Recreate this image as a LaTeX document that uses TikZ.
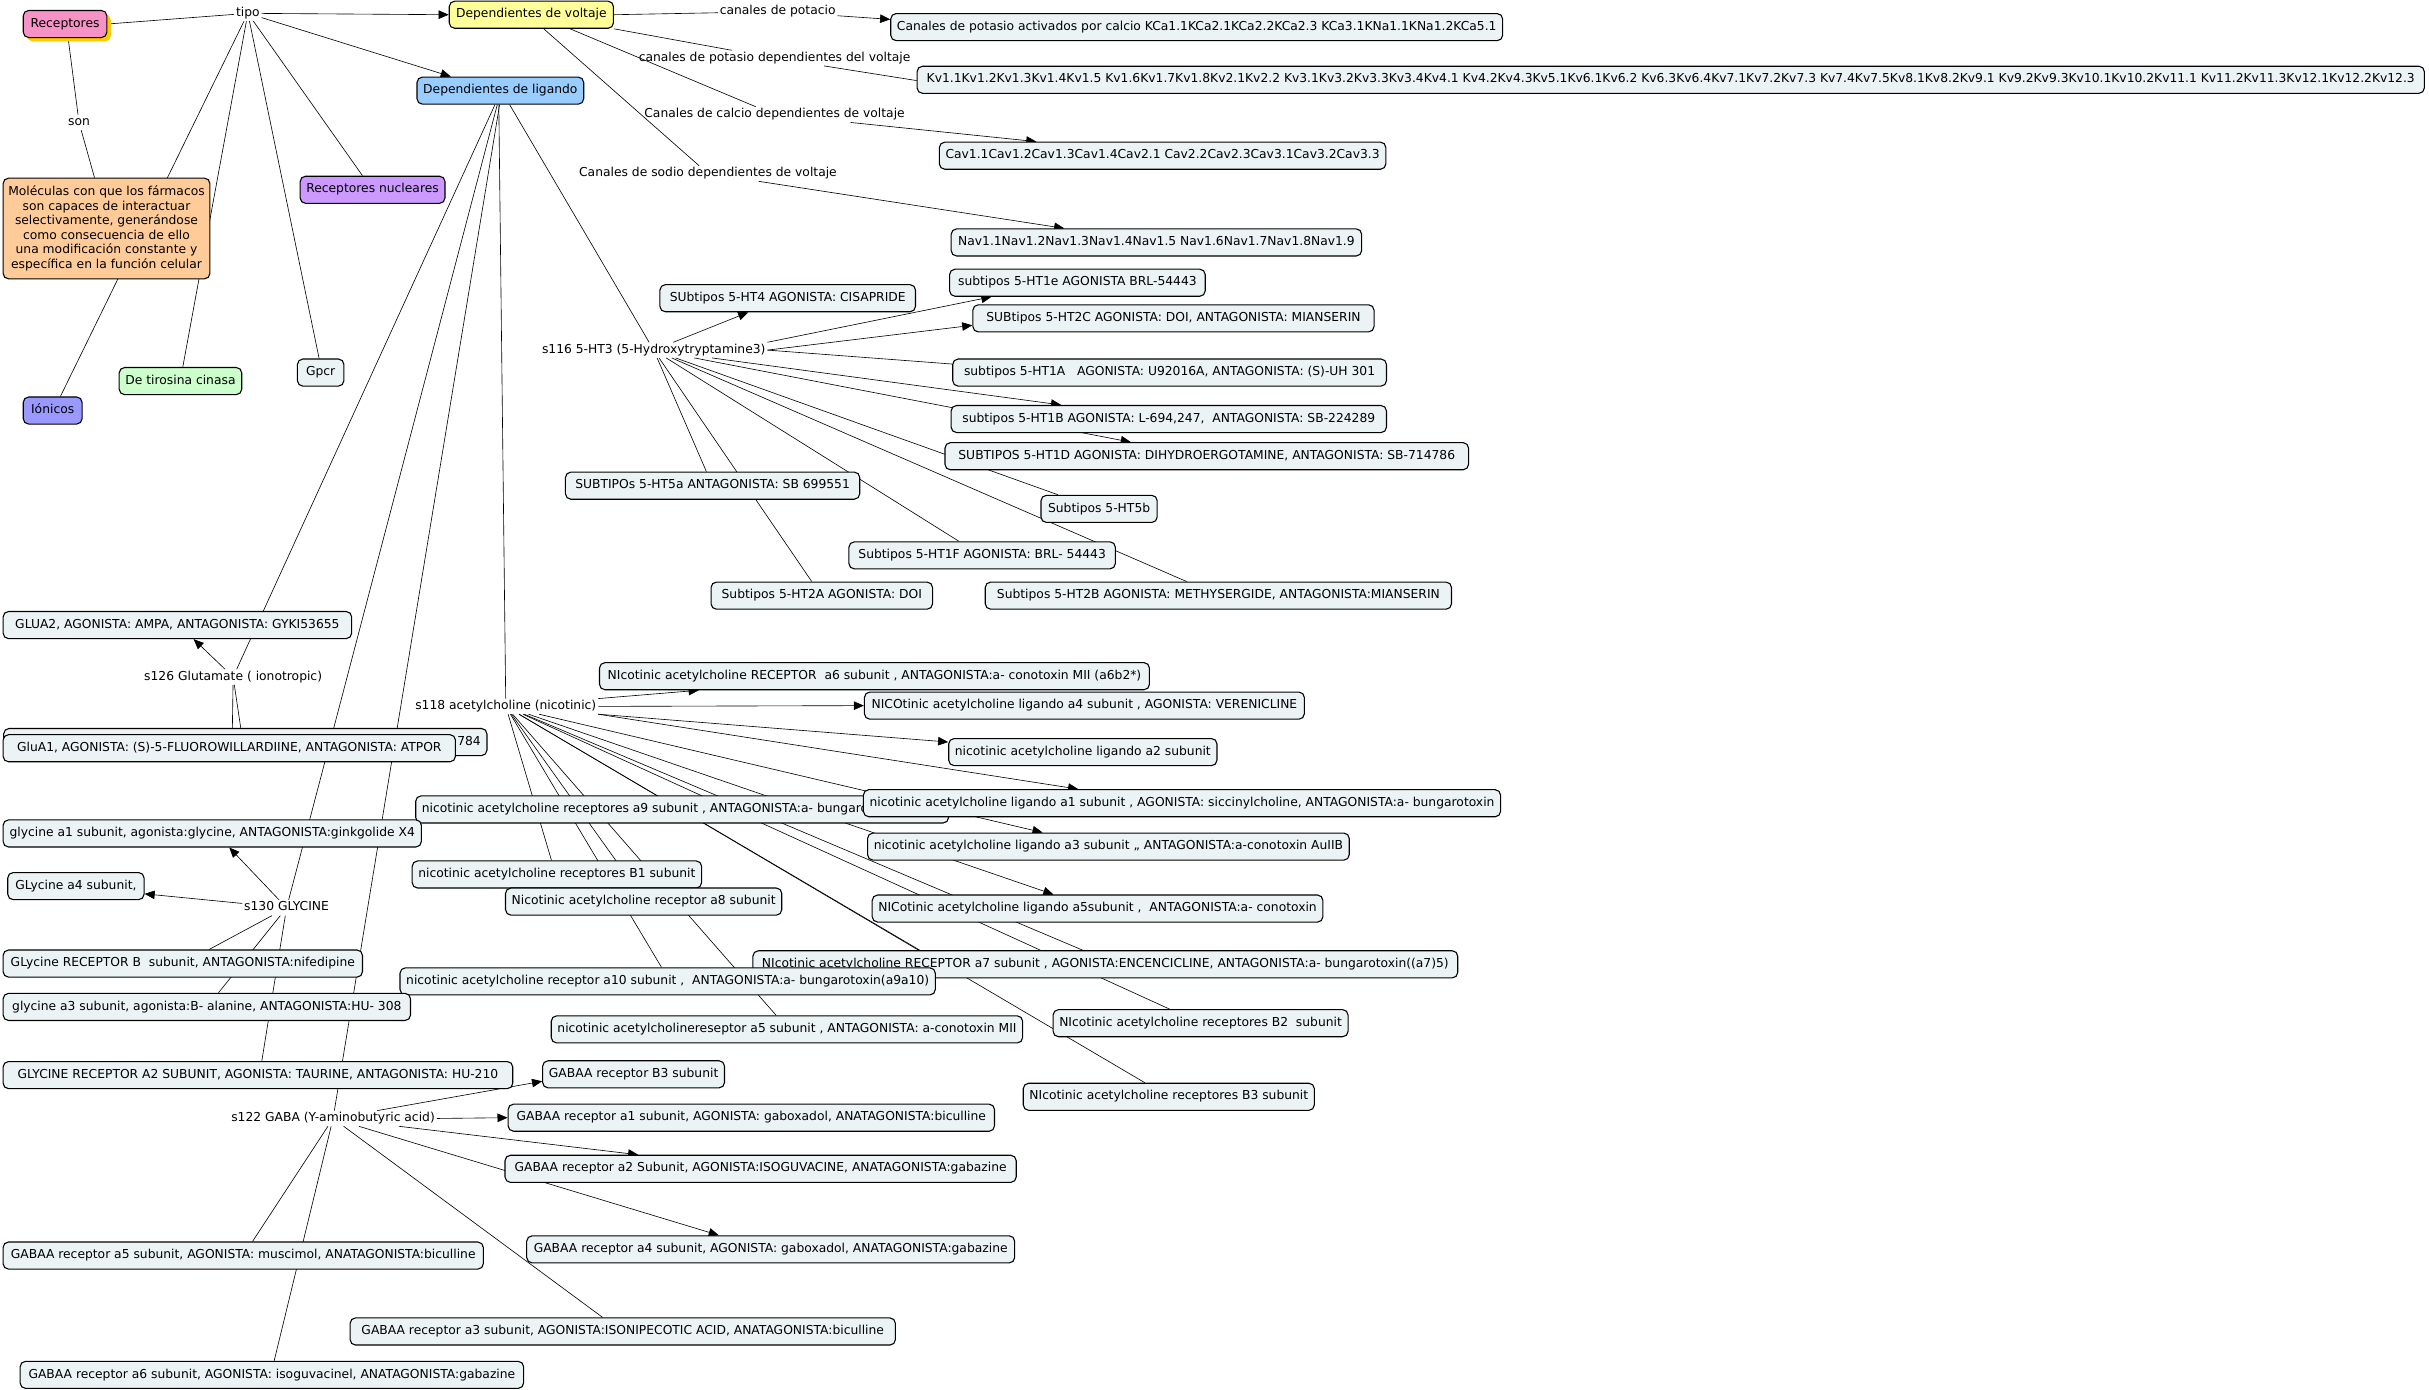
\documentclass[tikz,border=0pt]{standalone}
\usepackage{fontspec}
\setmainfont{DejaVu Sans}
\usetikzlibrary{arrows.meta,shadows}
\pgfdeclarelayer{bg}
\pgfsetlayers{bg,main}
\definecolor{cgrey}{RGB}{236,243,245}
\definecolor{cpink}{RGB}{247,146,198}
\definecolor{cshadow}{RGB}{255,204,0}
\definecolor{cyel}{RGB}{255,255,153}
\definecolor{cblue}{RGB}{153,204,255}
\definecolor{corange}{RGB}{255,204,153}
\definecolor{cpurple}{RGB}{204,153,255}
\definecolor{cviolet}{RGB}{153,153,255}
\definecolor{cgreen}{RGB}{204,255,204}
\begin{document}
\begin{tikzpicture}[x=1pt,y=-1pt,
  font=\fontsize{7.95}{9.4}\selectfont, line width=0.6pt,
  cbox/.style={draw, line width=0.7pt, rounded corners=3.5pt, fill=cgrey,
    inner xsep=4pt, inner ysep=2pt, minimum height=17.5pt,
    text height=5.8pt, text depth=1.7pt},
  molbox/.style={draw, line width=0.7pt, rounded corners=3.5pt, fill=corange,
    inner sep=3pt, align=center, minimum width=133.5pt, minimum height=65pt},
  lbl/.style={inner sep=1pt, text height=5.8pt, text depth=1.7pt},
  arr/.style={-{Triangle[length=6.5pt,width=5.5pt]}}]
\useasboundingbox (0,0) rectangle (1568,897);

% ---------- top concepts ----------
\node[cbox, fill=cpink, minimum width=54,
  drop shadow={shadow xshift=2.5pt, shadow yshift=-2.5pt, fill=cshadow, opacity=1}]
  (R) at (42,15.5) {Receptores};
\node[cbox, fill=cyel, minimum width=106] (DV) at (343,9.5) {Dependientes de voltaje};
\node[cbox, fill=cblue, minimum width=106] (DL) at (323,58.5) {Dependientes de ligando};
\node[molbox] (Mol) at (68.75,147.5) {Moléculas con que los fármacos\\ son capaces de interactuar\\ selectivamente, generándose\\ como consecuencia de ello\\ una modificación constante y\\ específica en la función celular};
\node[cbox, fill=cpurple, minimum width=93] (RN) at (240.5,122.5) {Receptores nucleares};
\node[cbox, fill=cviolet, minimum width=38] (Ion) at (34,265) {Iónicos};
\node[cbox, fill=cgreen, minimum width=79] (Tir) at (116.5,246) {De tirosina cinasa};
\node[cbox, minimum width=30] (Gpcr) at (207,240.5) {Gpcr};

% ---------- linking phrases ----------
\node[lbl] (tipo) at (160,8.6) {tipo};
\node[lbl] (son) at (51,79) {son};
\node[lbl] (L1) at (502,7.5) {canales de potacio};
\node[lbl] (L2) at (500,37.5) {canales de potasio dependientes del voltaje};
\node[lbl] (L3) at (500,74) {Canales de calcio dependientes de voltaje};
\node[lbl] (L4) at (457,112) {Canales de sodio dependientes de voltaje};
\node[lbl] (s116) at (422,226) {s116 5-HT3 (5-Hydroxytryptamine3)};
\node[lbl] (s118) at (326.5,456) {s118 acetylcholine (nicotinic)};
\node[lbl] (s126) at (150.5,437) {s126 Glutamate ( ionotropic)};
\node[lbl] (s130) at (185,586) {s130 GLYCINE};
\node[lbl] (s122) at (215,722) {s122 GABA (Y-aminobutyric acid)};

% ---------- voltage channels ----------
\node[cbox, minimum width=391] (kca) at (772.5,17.5) {Canales de potasio activados por calcio KCa1.1KCa2.1KCa2.2KCa2.3 KCa3.1KNa1.1KNa1.2KCa5.1};
\node[cbox, minimum width=973] (kv) at (1078.5,51.5) {Kv1.1Kv1.2Kv1.3Kv1.4Kv1.5 Kv1.6Kv1.7Kv1.8Kv2.1Kv2.2 Kv3.1Kv3.2Kv3.3Kv3.4Kv4.1 Kv4.2Kv4.3Kv5.1Kv6.1Kv6.2 Kv6.3Kv6.4Kv7.1Kv7.2Kv7.3 Kv7.4Kv7.5Kv8.1Kv8.2Kv9.1 Kv9.2Kv9.3Kv10.1Kv10.2Kv11.1 Kv11.2Kv11.3Kv12.1Kv12.2Kv12.3};
\node[cbox, minimum width=283] (cav) at (750.5,100.5) {Cav1.1Cav1.2Cav1.3Cav1.4Cav2.1 Cav2.2Cav2.3Cav3.1Cav3.2Cav3.3};
\node[cbox, minimum width=265] (nav) at (746.5,156.5) {Nav1.1Nav1.2Nav1.3Nav1.4Nav1.5 Nav1.6Nav1.7Nav1.8Nav1.9};

% ---------- 5-HT ----------
\node[cbox, minimum width=165] (ht4) at (508.5,192.5) {SUbtipos 5-HT4 AGONISTA: CISAPRIDE};
\node[cbox, minimum width=165] (ht1e) at (695.5,182.5) {subtipos 5-HT1e AGONISTA BRL-54443};
\node[cbox, minimum width=259] (ht2c) at (757.5,205.5) {SUBtipos 5-HT2C AGONISTA: DOI, ANTAGONISTA: MIANSERIN};
\node[cbox, minimum width=280] (ht1a) at (755,240.5) {subtipos 5-HT1A\ \ \ AGONISTA: U92016A, ANTAGONISTA: (S)-UH 301};
\node[cbox, minimum width=281] (ht1b) at (754.5,270.5) {subtipos 5-HT1B AGONISTA: L-694,247,\ \ ANTAGONISTA: SB-224289};
\node[cbox, minimum width=338] (ht1d) at (779,294.5) {SUBTIPOS 5-HT1D AGONISTA: DIHYDROERGOTAMINE, ANTAGONISTA: SB-714786};
\node[cbox, minimum width=190] (ht5a) at (460,313.5) {SUBTIPOs 5-HT5a ANTAGONISTA: SB 699551};
\node[cbox, minimum width=75] (ht5b) at (709.5,328.5) {Subtipos 5-HT5b};
\node[cbox, minimum width=172] (ht1f) at (634,358.5) {Subtipos 5-HT1F AGONISTA: BRL- 54443};
\node[cbox, minimum width=143] (ht2a) at (530.5,384.5) {Subtipos 5-HT2A AGONISTA: DOI};
\node[cbox, minimum width=301] (ht2b) at (786.5,384.5) {Subtipos 5-HT2B AGONISTA: METHYSERGIDE, ANTAGONISTA:MIANSERIN};

% ---------- nicotinic ----------
\node[cbox, minimum width=355] (na6) at (564.5,436.5) {NIcotinic acetylcholine RECEPTOR\ \ a6 subunit , ANTAGONISTA:a- conotoxin MII (a6b2*)};
\node[cbox, minimum width=284] (na4) at (700,455.5) {NICOtinic acetylcholine ligando a4 subunit , AGONISTA: VERENICLINE};
\node[cbox, minimum width=168] (na2) at (699,485.5) {nicotinic acetylcholine ligando a2 subunit};
\node[cbox, anchor=west, minimum width=344] (na9) at (268,522.5) {\makebox[336pt][l]{nicotinic acetylcholine receptores a9 subunit , ANTAGONISTA:a- bungarotoxin}};
\node[cbox, minimum width=410] (na1) at (763,518.5) {nicotinic acetylcholine ligando a1 subunit , AGONISTA: siccinylcholine, ANTAGONISTA:a- bungarotoxin};
\node[cbox, minimum width=309] (na3) at (715.5,546.5) {nicotinic acetylcholine ligando a3 subunit ,, ANTAGONISTA:a-conotoxin AuIIB};
\node[cbox, minimum width=183] (nb1) at (359.5,564.5) {nicotinic acetylcholine receptores B1 subunit};
\node[cbox, minimum width=173] (na8) at (415.5,582) {Nicotinic acetylcholine receptor a8 subunit};
\node[cbox, minimum width=287] (na5l) at (708.5,586.5) {NICotinic acetylcholine ligando a5subunit ,\ \ ANTAGONISTA:a- conotoxin};
\node[cbox, minimum width=455] (na7) at (713.5,622.5) {NIcotinic acetylcholine RECEPTOR a7 subunit , AGONISTA:ENCENCICLINE, ANTAGONISTA:a- bungarotoxin((a7)5)};
\node[cbox, minimum width=344] (na10) at (431,633.5) {nicotinic acetylcholine receptor a10 subunit ,\ \ ANTAGONISTA:a- bungarotoxin(a9a10)};
\node[cbox, minimum width=304] (na5r) at (508,664.5) {nicotinic acetylcholinereseptor a5 subunit , ANTAGONISTA: a-conotoxin MII};
\node[cbox, minimum width=188] (nb2) at (775,660.5) {NIcotinic acetylcholine receptores B2\ \ subunit};
\node[cbox, minimum width=185] (nb3) at (754.5,708) {NIcotinic acetylcholine receptores B3 subunit};

% ---------- glutamate ----------
\node[cbox, minimum width=225] (glua2) at (114.5,403.5) {GLUA2, AGONISTA: AMPA, ANTAGONISTA: GYKI53655};
\node[cbox, anchor=west, minimum width=312] (gback) at (2,479) {\makebox[304pt][r]{784}};
\node[cbox, minimum width=292] (glua1) at (148,483) {GluA1, AGONISTA: (S)-5-FLUOROWILLARDIINE, ANTAGONISTA: ATPOR};

% ---------- glycine ----------
\node[cbox, minimum width=270] (gy1) at (137,538) {glycine a1 subunit, agonista:glycine, ANTAGONISTA:ginkgolide X4};
\node[cbox, minimum width=88] (gy4) at (49,572) {GLycine a4 subunit,};
\node[cbox, minimum width=232] (gyb) at (118,622) {GLycine RECEPTOR B\ \ subunit, ANTAGONISTA:nifedipine};
\node[cbox, minimum width=263] (gy3) at (133.5,650) {glycine a3 subunit, agonista:B- alanine, ANTAGONISTA:HU- 308};
\node[cbox, minimum width=329] (gya2) at (166.5,694) {GLYCINE RECEPTOR A2 SUBUNIT, AGONISTA: TAURINE, ANTAGONISTA: HU-210};

% ---------- GABA ----------
\node[cbox, minimum width=116] (gbb3) at (409,693.5) {GABAA receptor B3 subunit};
\node[cbox, minimum width=314] (gba1) at (485,721.5) {GABAA receptor a1 subunit, AGONISTA: gaboxadol, ANATAGONISTA:biculline};
\node[cbox, minimum width=330] (gba2) at (491,754.5) {GABAA receptor a2 Subunit, AGONISTA:ISOGUVACINE, ANATAGONISTA:gabazine};
\node[cbox, minimum width=315] (gba4) at (497.5,806.5) {GABAA receptor a4 subunit, AGONISTA: gaboxadol, ANATAGONISTA:gabazine};
\node[cbox, minimum width=310] (gba5) at (157,810.5) {GABAA receptor a5 subunit, AGONISTA: muscimol, ANATAGONISTA:biculline};
\node[cbox, minimum width=352] (gba3) at (402,859.5) {GABAA receptor a3 subunit, AGONISTA:ISONIPECOTIC ACID, ANATAGONISTA:biculline};
\node[cbox, minimum width=325] (gba6) at (175.5,887.5) {GABAA receptor a6 subunit, AGONISTA: isoguvacinel, ANATAGONISTA:gabazine};

% ---------- connectors ----------
\begin{pgfonlayer}{bg}
\fill[white] (0,0) rectangle (1568,897);
\draw (R.east) -- (tipo);
\draw[arr] (tipo) -- (DV.west);
\draw[arr] (tipo) -- (DL.north -| 291,0);
\draw (tipo) -- (RN.north -| 234,0);
\draw (tipo) -- (Gpcr.north -| 206,0);
\draw (tipo) -- (Tir.north -| 118,0);
\draw (tipo) -- (Ion.north -| 39,0);
\draw (R.south -| 44,0) -- (son);
\draw (son) -- (Mol.north -| 61,0);
% voltage
\draw (DV.east) -- (L1);
\draw[arr] (L1) -- (kca.west |- 0,12.5);
\draw (DV.south east) -- (L2);
\draw (L2) -- (kv.west |- 0,52);
\draw (DV.south -| 368,0) -- (L3);
\draw[arr] (L3) -- (cav.north -| 669,0);
\draw (DV.south -| 351,0) -- (L4);
\draw[arr] (L4) -- (nav.north -| 687,0);
% ligand
\draw (DL.south -| 329,0) -- (s116);
\draw (DL.south -| 322,0) -- (s118);
\draw (DL.south -| 319.5,0) -- (s126);
\draw (DL.south -| 321,0) -- (s130);
\draw (DL.south -| 322.5,0) -- (s122);
% 5-HT
\draw[arr] (s116) -- (ht4.south -| 483,0);
\draw[arr] (s116.north east) -- (ht1e.south -| 640,0);
\draw[arr] (s116.east) -- (ht2c.west |- 0,210);
\draw (s116.east) -- (ht1a.west |- 0,235);
\draw[arr] (s116) -- (ht1b.north -| 685,0);
\draw[arr] (s116) -- (ht1d.north -| 730,0);
\draw (s116) -- (ht5b.north -| 683,0);
\draw (s116) -- (ht2b.north -| 766,0);
\draw (s116) -- (ht1f.north -| 619,0);
\draw (s116) -- (ht2a.north -| 524,0);
\draw (s116) -- (ht5a.north -| 456,0);
% nicotinic
\draw[arr] (s118.north east) -- (na6.south -| 451,0);
\draw[arr] (s118.east) -- (na4.west);
\draw[arr] (s118.south east) -- (na2.west |- 0,479);
\draw[arr] (s118.south east) -- (na1.north -| 696,0);
\draw[arr] (s118) -- (na3.north -| 673,0);
\draw[arr] (s118) -- (na5l.north -| 680,0);
\draw (s118) -- (nb1.north -| 356,0);
\draw (s118) -- (na8.north -| 410,0);
\draw (s118) -- (na10.north -| 427,0);
\draw (s118) -- (na5r.north -| 501,0);
\draw (s118) -- (na7.north -| 593,0);
\draw (s118) -- (na7.north -| 699,0);
\draw (s118) -- (nb3.north -| 739,0);
\draw (s118) -- (nb2.north -| 755,0);
% glutamate
\draw[arr] (s126) -- (glua2.south -| 125,0);
\draw (s126) -- (gback.north -| 150,0);
\draw (s126) -- (glua1.north -| 156,0);
% glycine
\draw[arr] (s130) -- (gy1.south -| 148,0);
\draw[arr] (s130) -- (gy4.east |- 0,577);
\draw (s130) -- (gyb.north -| 135,0);
\draw (s130) -- (gy3.north -| 141,0);
\draw (s130) -- (gya2.north -| 169,0);
% GABA
\draw[arr] (s122) -- (gbb3.west |- 0,698);
\draw[arr] (s122.east) -- (gba1.west);
\draw[arr] (s122) -- (gba2.north -| 412,0);
\draw[arr] (s122) -- (gba4.north -| 464,0);
\draw (s122) -- (gba5.north -| 163,0);
\draw (s122) -- (gba6.north -| 177,0);
\draw (s122) -- (gba3.north -| 389,0);
\end{pgfonlayer}
\end{tikzpicture}
\end{document}
